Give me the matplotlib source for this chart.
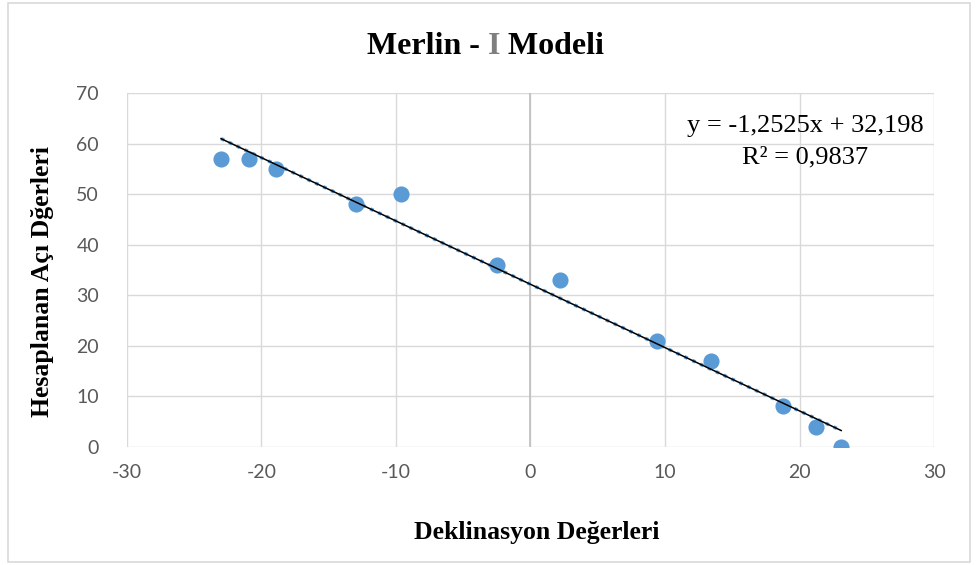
import numpy as np
import matplotlib
matplotlib.use("Agg")
import matplotlib.pyplot as plt
from matplotlib.patches import Rectangle

# declination vs computed angle
deklinasyon = [-23.0, -20.9, -18.9, -13.0, -9.6, -2.5, 2.2, 9.4, 13.4, 18.8, 21.2, 23.1]
aci = [57, 57, 55, 48, 50, 36, 33, 21, 17, 8, 4, 0]
x_ticks = [-30, -20, -10, 0, 10, 20, 30]
y_ticks = [0, 10, 20, 30, 40, 50, 60, 70]

blue = "#5b9bd5"
grid_c = "#d9d9d9"
tick_c = "#595959"

plt.rcParams["axes.unicode_minus"] = False

fig = plt.figure(figsize=(9.76, 5.65), dpi=100)
ax = fig.add_axes([0.130, 0.209, 0.827, 0.626])

# frame around the whole chart
fig.patches.append(Rectangle((0.008, 0.005), 0.986, 0.99, transform=fig.transFigure,
                             fill=False, edgecolor="#d9d9d9", linewidth=1.2))

ax.scatter(deklinasyon, aci, s=135, color=blue, zorder=3, linewidths=0)

# linear trendline
a, b = np.polyfit(deklinasyon, aci, 1)
tx = np.array([min(deklinasyon), max(deklinasyon)])
ax.plot(tx, a * tx + b, color=blue, linewidth=2.5, linestyle=(0, (1, 1.5)), zorder=4)
ax.plot(tx, a * tx + b, color="black", linewidth=1.1, zorder=5)

ax.set_xlim(-30, 30)
ax.set_ylim(0, 70)
ax.set_xticks(x_ticks)
ax.set_yticks(y_ticks)
ax.grid(True, color=grid_c, linewidth=1)
ax.axvline(0, color="#bfbfbf", linewidth=1.2, zorder=1)
ax.set_axisbelow(True)
for s in ax.spines.values():
    s.set_visible(False)
ax.tick_params(length=0, labelsize=14, labelcolor=tick_c, pad=12)
ax.tick_params(axis="y", pad=20)
for lab in ax.get_xticklabels() + ax.get_yticklabels():
    lab.set_fontfamily("Lato")

ax.set_xlabel("Deklinasyon Değerleri", fontfamily="Liberation Serif", fontweight="bold",
              fontsize=18.5, va="center")
ax.set_ylabel("Hesaplanan Açı Dğerleri", fontfamily="Liberation Serif", fontweight="bold",
              fontsize=18.5, va="center")
ax.xaxis.set_label_coords(0.508, -0.243)
ax.yaxis.set_label_coords(-0.104, 0.469)

ax.text(0.84, 0.907, "y = -1,2525x + 32,198", transform=ax.transAxes, ha="center",
        va="center", fontfamily="Liberation Serif", fontsize=19)
ax.text(0.84, 0.819, "R² = 0,9837", transform=ax.transAxes, ha="center",
        va="center", fontfamily="Liberation Serif", fontsize=19)

# title with the grey "I"
tkw = dict(fontfamily="Liberation Serif", fontweight="bold", fontsize=23)
t1 = fig.text(0.376, 0.905, "Merlin - ", ha="left", va="baseline", **tkw)
t2 = ax.annotate("I", xy=(1, 0), xycoords=t1, ha="left", va="bottom", color="#7f7f7f",
                 annotation_clip=False, **tkw)
t3 = ax.annotate(" Modeli", xy=(1, 0), xycoords=t2, ha="left", va="bottom",
                 annotation_clip=False, **tkw)

fig.savefig("out.png", dpi=100)
